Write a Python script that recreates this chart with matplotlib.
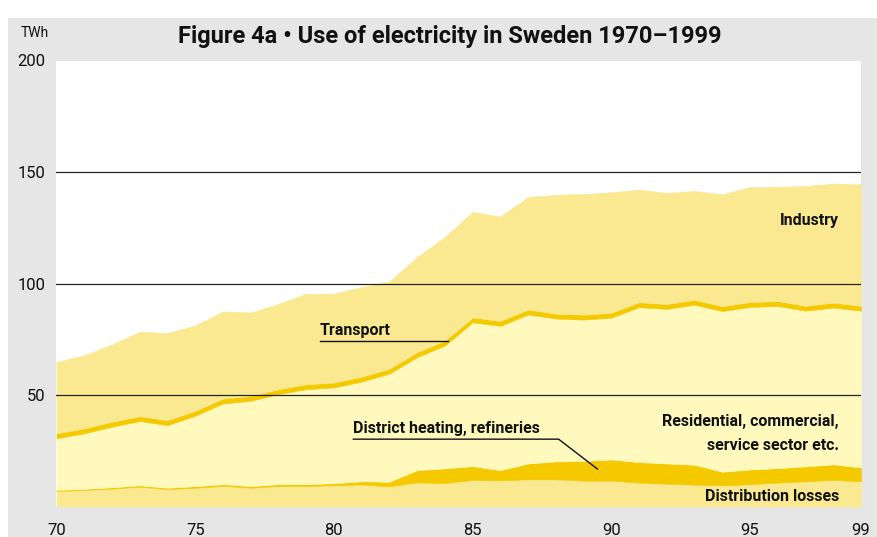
import matplotlib
matplotlib.use("Agg")
import matplotlib.pyplot as plt
from matplotlib.patches import Rectangle

# Use of electricity in Sweden, TWh
years = list(range(1970, 2000))
losses = [6.9, 7.4, 8.0, 8.9, 7.8, 8.4, 9.3, 8.4, 9.2, 9.2,
          9.5, 9.9, 9.0, 10.8, 10.5, 11.9, 11.7, 12.2, 12.2, 11.6,
          11.6, 10.7, 10.2, 9.8, 9.5, 10.0, 10.7, 11.3, 11.9, 11.3]
district_heating = [0.5, 0.5, 0.6, 0.6, 0.6, 0.7, 0.7, 0.7, 0.8, 0.8,
                    0.9, 1.4, 2.1, 5.5, 6.6, 6.2, 4.6, 7.1, 8.0, 8.8,
                    9.5, 9.2, 9.1, 8.9, 6.1, 6.6, 6.5, 6.7, 7.0, 6.2]
residential = [23.2, 24.9, 27.2, 28.8, 28.1, 31.6, 36.2, 38.3, 40.4, 42.6,
               43.0, 44.7, 48.5, 50.7, 55.1, 64.5, 64.7, 66.8, 64.1, 63.4,
               63.6, 69.5, 69.3, 71.8, 72.0, 72.9, 72.7, 69.8, 70.3, 70.3]
transport = [2.2, 2.2, 2.2, 2.2, 2.2, 2.2, 2.2, 2.2, 2.2, 2.2,
             2.2, 2.2, 2.2, 2.2, 2.2, 2.2, 2.2, 2.2, 2.2, 2.2,
             2.2, 2.2, 2.2, 2.2, 2.2, 2.2, 2.2, 2.2, 2.2, 2.2]
industry = [32.0, 32.8, 34.7, 37.9, 39.1, 38.3, 39.1, 37.4, 38.3, 40.6,
            39.9, 40.2, 39.1, 42.7, 46.5, 47.3, 46.9, 50.5, 53.3, 54.1,
            54.0, 50.5, 49.8, 48.8, 50.2, 51.6, 51.3, 53.7, 53.4, 54.5]

y_ticks = [50, 100, 150, 200]
x_ticks = [1970, 1975, 1980, 1985, 1990, 1995, 1999]
x_labels = ["70", "75", "80", "85", "90", "95", "99"]

light = "#fbe992"
pale = "#fff9be"
dark = "#f5c900"
FONT = ["Roboto", "DejaVu Sans"]

fig = plt.figure(figsize=(8.77, 5.37), dpi=100, facecolor="white")
fig.patches.append(Rectangle((8 / 877, 0), 1, 519 / 537, transform=fig.transFigure,
                             facecolor="#e6e6e6", edgecolor="none", zorder=-5))

ax = fig.add_axes([56.5 / 877, 30.5 / 537, 804.5 / 877, 446 / 537])
ax.set_zorder(2)
ax.set_facecolor("white")

cols = [light, dark, pale, dark, light]
polys = ax.stackplot(years, losses, district_heating, residential, transport, industry,
                     colors=cols, linewidth=0)
for p, c in zip(polys, cols):
    p.set_edgecolor(c)
    p.set_linewidth(0.4)

for t in y_ticks[:-1]:
    ax.axhline(t, color="#222222", lw=0.9, zorder=2)

ax.set_xlim(1970, 1999)
ax.set_ylim(0, 200)
ax.set_yticks(y_ticks)
ax.set_xticks(x_ticks)
ax.set_xticklabels(x_labels)
ax.tick_params(length=0, labelsize=12, colors="#111111", pad=12)
ax.tick_params(axis="y", pad=8)
for lab in ax.get_xticklabels() + ax.get_yticklabels():
    lab.set_family(FONT)
for s in ax.spines.values():
    s.set_visible(False)

fig.text(35 / 877, 1 - 33 / 537, "TWh", ha="center", va="center", fontsize=10,
         family=FONT, color="#111111")
fig.text(450 / 877, 1 - 36 / 537, "Figure 4a \u2022 Use of electricity in Sweden 1970\u20131999",
         ha="center", va="center", fontsize=17, fontweight="bold", family=FONT, color="#111111")

lab_kw = dict(fontsize=11.5, fontweight="bold", family=FONT, color="#111111", zorder=4)
ax.text(1998.2, 128.2, "Industry", ha="right", va="center", **lab_kw)
ax.text(1979.5, 79.0, "Transport", ha="left", va="center", **lab_kw)
ax.plot([1979.5, 1984.1], [74.1, 74.1], color="#111111", lw=1, zorder=4)
ax.text(1980.7, 35.1, "District heating, refineries", ha="left", va="center", **lab_kw)
ax.plot([1980.7, 1988.1, 1989.5], [30.2, 30.2, 16.8], color="#111111", lw=1, zorder=4)
ax.text(1998.2, 38.3, "Residential, commercial,", ha="right", va="center", **lab_kw)
ax.text(1998.2, 27.5, "service sector etc.", ha="right", va="center", **lab_kw)
ax.text(1998.2, 4.3, "Distribution losses", ha="right", va="center", **lab_kw)

fig.savefig("out.png", dpi=100, facecolor=fig.get_facecolor())
